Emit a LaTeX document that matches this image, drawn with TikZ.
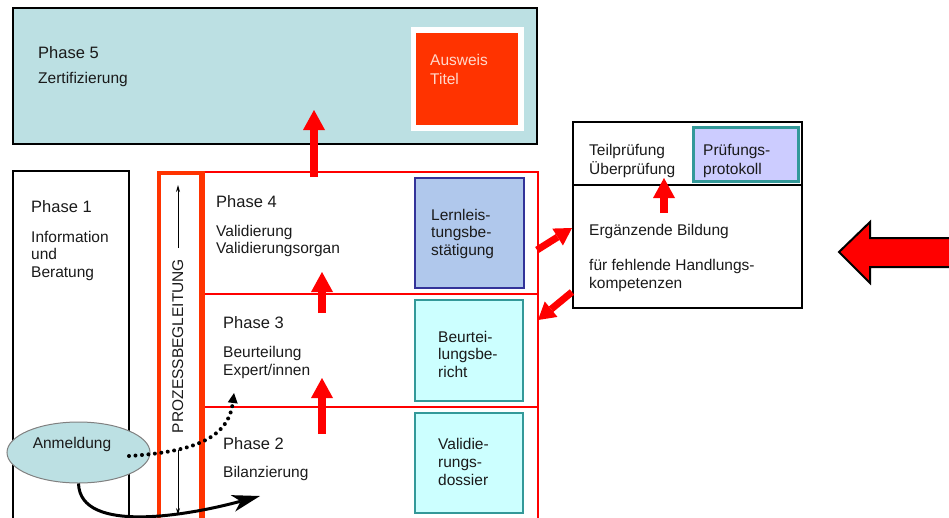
\documentclass[tikz,border=0pt]{standalone}
\usepackage{fontspec}
\setmainfont{Liberation Sans}
\usetikzlibrary{arrows.meta,shapes.geometric}
\definecolor{pfive}{HTML}{BCE0E3}
\definecolor{ored}{HTML}{FF3300}
\definecolor{lblue}{HTML}{B0C8EC}
\definecolor{dblue}{HTML}{333399}
\definecolor{lcyan}{HTML}{CCFFFF}
\definecolor{teal2}{HTML}{339999}
\definecolor{lviolet}{HTML}{CCCCFF}
\definecolor{pinktxt}{HTML}{FFD9CC}
\definecolor{txtgray}{HTML}{1A1A1A}
\newcommand\myfs{\fontsize{15.5}{18}\selectfont}
\newcommand\myfsb{\fontsize{16.5}{19}\selectfont}
\begin{document}
\begin{tikzpicture}[x=1pt,y=-1pt,
  box/.style={draw, inner sep=0pt, anchor=north west},
  txt/.style={anchor=base west, inner sep=0pt, font=\myfs, text=txtgray},
  ttl/.style={anchor=base west, inner sep=0pt, font=\myfsb, text=txtgray},
  redarrow/.style={draw=red, line width=8pt, -{Triangle[width=22pt,length=20pt,line width=0pt]}},
  redarrowb/.style={draw=red, line width=7pt, -{Triangle[width=20pt,length=17pt,line width=0pt]}}
]
\useasboundingbox (0,0) rectangle (949,517);
\clip (0,0) rectangle (949,517);

% Phase 5
\node[box, fill=pfive, line width=2pt, minimum width=524pt, minimum height=136pt] (p5) at (12,7) {};
\node[box, draw=none, fill=white, minimum width=113pt, minimum height=104pt] (auw) at (411,27) {};
\node[box, draw=none, fill=ored, minimum width=102pt, minimum height=92pt] (aus) at (416,33) {};

% Phase 1
\node[box, line width=2pt, minimum width=116pt, minimum height=420pt] (p1) at (12,170) {};

% Phases 4,3,2
\node[box, draw=red, line width=2pt, minimum width=338pt, minimum height=122pt] (p4) at (199,171) {};
\node[box, draw=red, line width=2pt, minimum width=338pt, minimum height=113pt] (p3) at (199,293) {};
\node[box, draw=red, line width=2pt, minimum width=338pt, minimum height=200pt] (p2) at (199,406) {};

% Prozessbegleitung column
\node[box, draw=ored, line width=3.5pt, minimum width=42pt, minimum height=420pt] (col) at (157,171) {};
\draw[ored, line width=5pt] (col.north east) -- (col.south east);

% document boxes
\node[box, fill=lblue, draw=dblue, line width=2pt, minimum width=109pt, minimum height=110pt] (lern) at (414,177) {};
\node[box, fill=lcyan, draw=teal2, line width=2pt, minimum width=108pt, minimum height=101pt] (beur) at (414,299) {};
\node[box, fill=lcyan, draw=teal2, line width=2pt, minimum width=108pt, minimum height=100pt] (vali) at (414,412) {};

% Ergaenzende Bildung
\node[box, line width=2pt, minimum width=229pt, minimum height=63pt] (ergt) at (572,121) {};
\node[box, line width=2pt, minimum width=229pt, minimum height=123pt] (erg) at (572,184) {};
\node[box, fill=lviolet, draw=teal2, line width=3pt, minimum width=105pt, minimum height=54pt] (prot) at (692,126) {};

% big left arrow
\draw[fill=red, line width=2pt, line join=miter] (839,252) -- (870,222) -- (870,238) -- (960,238) -- (960,267) -- (870,267) -- (870,283) -- cycle;

% red arrows
\coordinate (a45s) at (314,177); \coordinate (a45e) at (314,110);
\coordinate (a34s) at (322,313); \coordinate (a34e) at (322,272);
\coordinate (a23s) at (322,434); \coordinate (a23e) at (322,378);
\coordinate (aes) at (664,213); \coordinate (aee) at (664,178);
\draw[redarrow] (a45s) -- (a45e);
\draw[redarrow] (a34s) -- (a34e);
\draw[redarrow] (a23s) -- (a23e);
\draw[redarrow] (aes) -- (aee);
\coordinate (r1s) at (537,250); \coordinate (r1e) at (572,228);
\coordinate (r2s) at (572,292); \coordinate (r2e) at (538,320);
\draw[redarrowb] (r1s) -- (r1e);
\draw[redarrowb] (r2s) -- (r2e);

% column arrows
\coordinate (cu1) at (178,248); \coordinate (cu2) at (178,185);
\coordinate (cd1) at (178,450); \coordinate (cd2) at (178,515);
\draw[line width=1pt, -{Stealth[length=7pt,width=4pt]}] (cu1) -- (cu2);
\draw[line width=1pt, -{Stealth[length=7pt,width=4pt]}] (cd1) -- (cd2);
\node[rotate=90, anchor=base, inner sep=0pt, font=\myfs, text=txtgray] (proz) at (183,346) {PROZESSBEGLEITUNG};

% Anmeldung
\node[ellipse, draw=black!50, fill=pfive, line width=1pt, minimum width=143pt, minimum height=61pt, inner sep=0pt] (anm) at (78.5,452.5) {};
\node[anchor=base, inner sep=0pt, font=\myfs, text=txtgray] (anmt) at (72,448) {Anmeldung};

% curves
\coordinate (ds) at (129,456); \coordinate (de) at (234,393);
\draw[line width=4pt, dash pattern=on 0pt off 6.5pt, line cap=round, -{Triangle[width=10pt,length=10pt,line width=0pt]}] (ds) .. controls (190,452) and (228,440) .. (de);
\coordinate (ce) at (260,496);
\draw[line width=3pt, -{Stealth[width=17pt,length=28pt,inset=8pt,line width=0pt]}] (anm.south) .. controls (80,535) and (190,515) .. (ce);

% texts
\node[ttl] (t5) at (38,58) {Phase 5};
\node[txt] (t5b) at (38,83) {Zertifizierung};
\node[txt, text=pinktxt] (ta) at (430,65) {Ausweis};
\node[txt, text=pinktxt] (tb) at (430,84) {Titel};

\node[ttl] (t1) at (31,212) {Phase 1};
\node[txt] (t1a) at (31,242) {Information};
\node[txt] (t1b) at (31,259.5) {und};
\node[txt] (t1c) at (31,277) {Beratung};

\node[ttl] (t4) at (216,207) {Phase 4};
\node[txt] (t4a) at (216,236) {Validierung};
\node[txt] (t4b) at (216,253) {Validierungsorgan};

\node[ttl] (t3) at (223,328) {Phase 3};
\node[txt] (t3a) at (223,357) {Beurteilung};
\node[txt] (t3b) at (223,375) {Expert/innen};

\node[ttl] (t2) at (223,449) {Phase 2};
\node[txt] (t2a) at (223,477) {Bilanzierung};

\node[txt] (l1) at (431,220) {Lernleis-};
\node[txt] (l2) at (431,237.5) {tungsbe-};
\node[txt] (l3) at (431,255) {stätigung};

\node[txt] (b1) at (438,342) {Beurtei-};
\node[txt] (b2) at (438,359.5) {lungsbe-};
\node[txt] (b3) at (438,377) {richt};

\node[txt] (v1) at (438,449) {Validie-};
\node[txt] (v2) at (438,467) {rungs-};
\node[txt] (v3) at (438,485) {dossier};

\node[txt] (e1) at (589,155) {Teilprüfung};
\node[txt] (e2) at (589,174) {Überprüfung};
\node[txt] (e3) at (703,155) {Prüfungs-};
\node[txt] (e4) at (703,174) {protokoll};
\node[txt] (e5) at (589,235) {Ergänzende Bildung};
\node[txt] (e6) at (589,270) {für fehlende Handlungs-};
\node[txt] (e7) at (589,288) {kompetenzen};
\end{tikzpicture}
\end{document}
